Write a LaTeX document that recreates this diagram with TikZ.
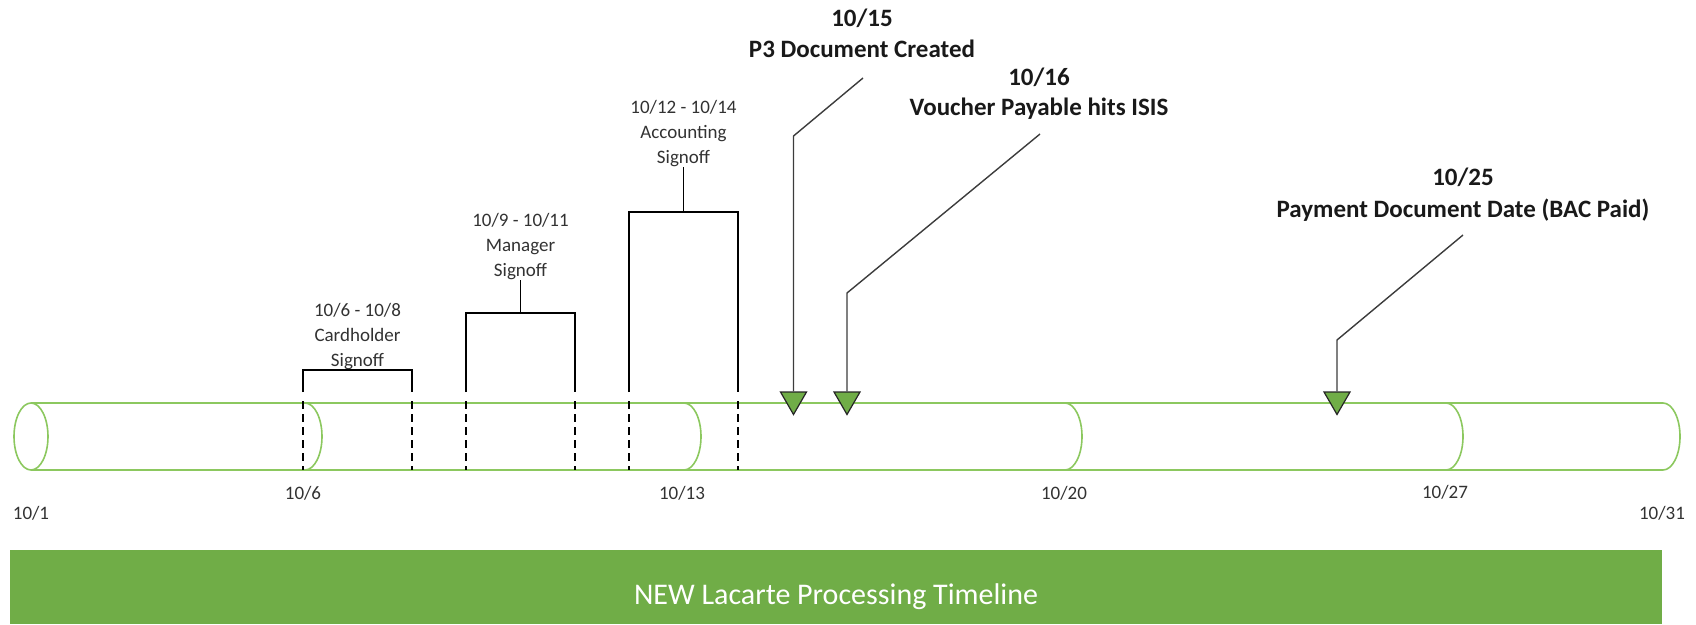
\documentclass[tikz,border=0pt]{standalone}
\usepackage{fontspec}
\setmainfont{Carlito}
\usetikzlibrary{shapes.geometric}
\definecolor{cylgreen}{RGB}{140,200,95}
\definecolor{bargreen}{RGB}{112,173,71}
\definecolor{txtgray}{RGB}{50,50,50}
\definecolor{conngray}{RGB}{60,60,60}
\tikzset{
  cyl/.style={draw=cylgreen, line width=1.6pt},
  brk/.style={draw=black, line width=1.6pt},
  dsh/.style={draw=black, line width=2pt, dash pattern=on 8pt off 5pt},
  conn/.style={draw=conngray, line width=1.4pt},
  marker/.style={regular polygon, regular polygon sides=3, shape border rotate=180,
    minimum size=30pt, inner sep=0pt, fill=bargreen, draw=black!85, line width=1.2pt},
  small/.style={font=\fontsize{19}{25}\selectfont, text=txtgray, inner sep=0pt, align=center},
  datelab/.style={font=\fontsize{19}{25}\selectfont, text=txtgray, inner sep=0pt},
  bold/.style={font=\fontsize{25}{30}\selectfont\bfseries, text=black!90, inner sep=0pt, anchor=base},
}
\begin{document}
\begin{tikzpicture}[x=1pt, y=-1pt]
\useasboundingbox (0,0) rectangle (1696,624);

% cylinder
\draw[cyl] (31,403) -- (1663,403) arc (90:-90:17pt and 33.5pt) -- (31,470);
\draw[cyl] (31,436.5) ellipse [x radius=17pt, y radius=33.5pt];
\foreach \cx in {305,684,1065,1446}
  \draw[cyl] (\cx,403) arc (90:-90:17pt and 33.5pt);

% date labels under the cylinder
\node[datelab] (d1)  at (31,513)   {10/1};
\node[datelab] (d6)  at (303,493)  {10/6};
\node[datelab] (d13) at (682,493)  {10/13};
\node[datelab] (d20) at (1064,493) {10/20};
\node[datelab] (d27) at (1445,492) {10/27};
\node[datelab] (d31) at (1662,513) {10/31};

% dashed markers
\foreach \dx in {303,412,466,575,629,738}
  \draw[dsh] (\dx,401) -- (\dx,470);

% brackets
\node[small, anchor=south] (card) at (357.5,370) {10/6 - 10/8\\Cardholder\\Signoff};
\draw[brk] (303,392) -- (303,370) -- (412,370) -- (412,392);

\node[small, anchor=south] (mgr) at (520.5,280) {10/9 - 10/11\\Manager\\Signoff};
\draw[brk] (466,392) -- (466,313) -- (575,313) -- (575,392);
\draw[brk] (mgr.south) -- (520.5,313);

\node[small, anchor=south] (acc) at (683.5,167) {10/12 - 10/14\\Accounting\\Signoff};
\draw[brk] (629,392) -- (629,212) -- (738,212) -- (738,392);
\draw[brk] (acc.south) -- (683.5,212);

% event labels
\node[bold] (e1d) at (862,26)  {10/15};
\node[bold] (e1t) at (862,57)  {P3 Document Created};
\node[bold] (e2d) at (1039,85) {10/16};
\node[bold] (e2t) at (1039,115) {Voucher Payable hits ISIS};
\node[bold] (e3d) at (1463,185) {10/25};
\node[bold] (e3t) at (1463,217) {Payment Document Date (BAC Paid)};

% markers
\node[marker] (m1) at (793.5,399.5) {};
\node[marker] (m2) at (847,399.5) {};
\node[marker] (m3) at (1337,399.5) {};

\coordinate (c1s) at (863,78);
\coordinate (c1b) at (793.5,136);
\coordinate (c2s) at (1040,134);
\coordinate (c2b) at (847,293);
\coordinate (c3s) at (1463,235);
\coordinate (c3b) at (1337,340);
\draw[conn] (c1s) -- (c1b) -- (m1.north);
\draw[conn] (c2s) -- (c2b) -- (m2.north);
\draw[conn] (c3s) -- (c3b) -- (m3.north);

% title bar
\fill[bargreen] (10,550) rectangle (1662,624);
\node[anchor=base, text=white, font=\fontsize{30}{36}\selectfont, inner sep=0pt] (title) at (836,604) {NEW Lacarte Processing Timeline};
\end{tikzpicture}
\end{document}
